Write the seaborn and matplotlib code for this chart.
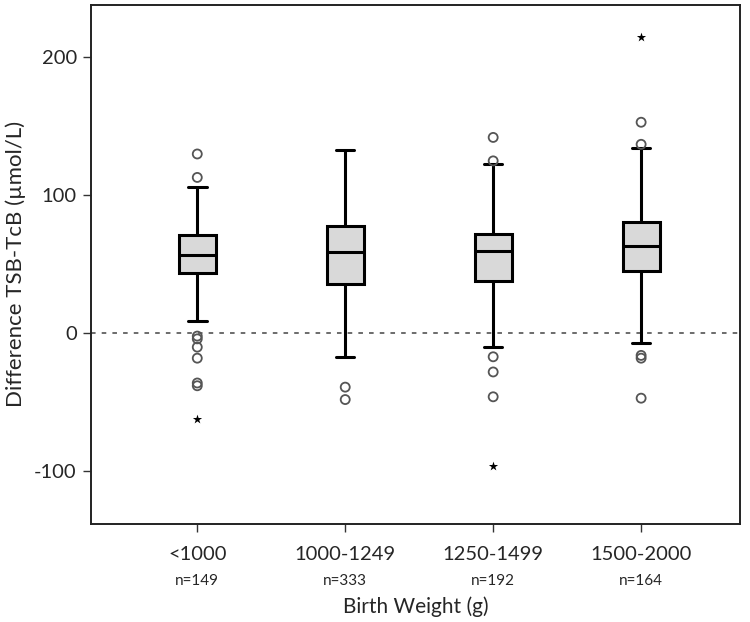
import matplotlib
matplotlib.use("Agg")
import matplotlib.pyplot as plt
import seaborn as sns
import pandas as pd

# Birth weight groups and sample sizes
groups = ["<1000", "1000-1249", "1250-1499", "1500-2000"]
n_counts = [149, 333, 192, 164]

# Box statistics (umol/L)
whisker_low = [9, -17, -10, -7]
q1 = [44, 36, 38, 45]
median = [57, 59, 60, 63]
q3 = [71, 78, 72, 81]
whisker_high = [106, 133, 123, 134]

# Outliers (circles) and extreme values (stars)
outliers = [
    [130, 113, -2, -4, -10, -18, -36, -38],
    [-39, -48],
    [142, 125, -17, -28, -46],
    [153, 137, -16, -18, -47],
]
extremes = [[-62], [], [-96], [215]]

# five-number summary per group -> percentile whiskers reproduce it exactly
box_rows = []
for i, g in enumerate(groups):
    for v in (whisker_low[i], q1[i], median[i], q3[i], whisker_high[i]):
        box_rows.append({"group": g, "value": v})
box_df = pd.DataFrame(box_rows)

out_df = pd.DataFrame(
    [{"group": g, "value": v} for g, vals in zip(groups, outliers) for v in vals]
)
ext_df = pd.DataFrame(
    [{"group": g, "value": v} for g, vals in zip(groups, extremes) for v in vals]
)

sns.set_theme(style="white")
plt.rcParams["font.family"] = ["Lato", "DejaVu Sans"]
plt.rcParams["axes.unicode_minus"] = False

fig = plt.figure(figsize=(7.5, 6.22), dpi=100)
ax = fig.add_axes([0.121, 0.158, 0.866, 0.834])

ax.axhline(0, color="#444444", lw=1.1, linestyle=(0, (3, 4)), zorder=1)

sns.boxplot(
    data=box_df, x="group", y="value", order=groups,
    whis=(0, 100), width=0.25, color="#d9d9d9", saturation=1,
    linecolor="black", linewidth=2.2, showfliers=False, ax=ax,
)

sns.stripplot(
    data=out_df, x="group", y="value", order=groups, jitter=False,
    marker="o", size=6.5, facecolors="none", edgecolor="#555555",
    linewidth=1.3, ax=ax,
)
sns.stripplot(
    data=ext_df, x="group", y="value", order=groups, jitter=False,
    marker="*", size=7, color="black", linewidth=0, ax=ax,
)

ax.set_xlim(-0.72, 3.67)
ax.set_ylim(-138, 238)
ax.set_yticks([-100, 0, 100, 200])
ax.set_xticks(range(len(groups)))
ax.set_xticklabels(groups, fontsize=14.5)
ax.tick_params(axis="y", labelsize=14.5)
ax.tick_params(axis="both", direction="out", length=6, width=1, color="#333333",
               left=True, bottom=True, pad=4)
ax.tick_params(axis="x", pad=10)

for i, n in enumerate(n_counts):
    ax.text(i, -0.11, f"n={n}", transform=ax.get_xaxis_transform(),
            ha="center", va="center", fontsize=11)

ax.set_xlabel("Birth Weight (g)", fontsize=15)
ax.xaxis.set_label_coords(0.5, -0.14)
ax.set_ylabel("Difference TSB-TcB (\u00b5mol/L)", fontsize=16, labelpad=6)

for s in ax.spines.values():
    s.set_visible(True)
    s.set_color("#222222")
    s.set_linewidth(1.4)

fig.savefig("out.png", dpi=100)
